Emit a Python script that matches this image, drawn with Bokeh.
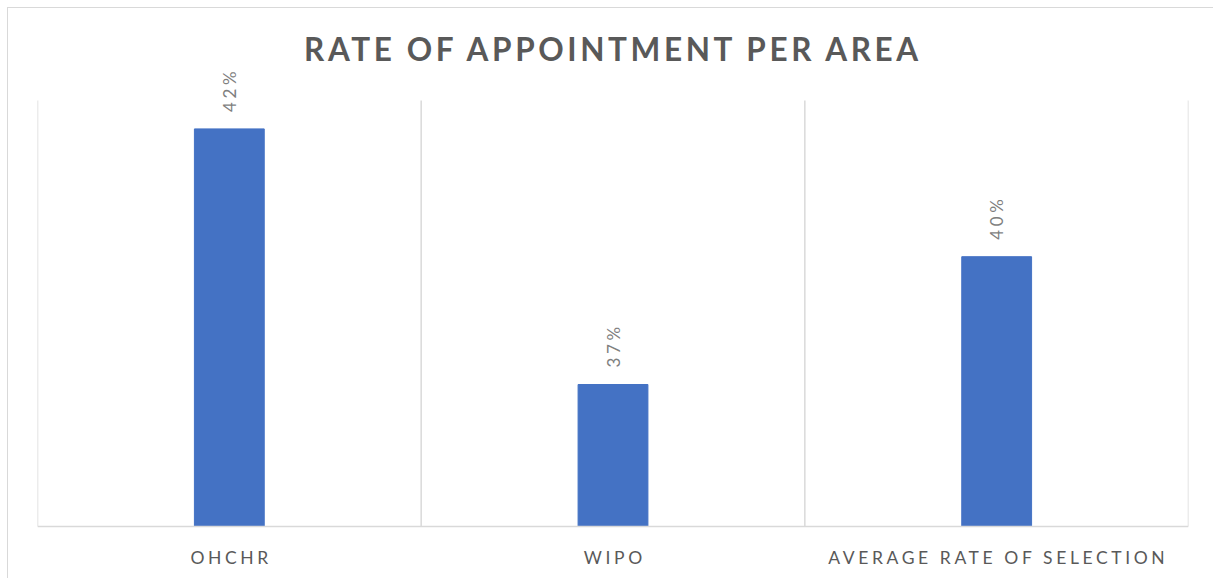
from bokeh.plotting import figure
from bokeh.models import ColumnDataSource, FactorRange, Range1d, Span, Label
from bokeh.embed import file_html
from bokeh.resources import INLINE
import math

# ---- data ----
categories = ["OHCHR", "WIPO", "AVERAGE RATE OF SELECTION"]
values = [0.424, 0.370, 0.397]
value_labels = [f"{v:.0%}" for v in values]
title_text = "RATE OF APPOINTMENT PER AREA"
y_min, y_max = 0.34, 0.43

LS = 3.6  # letter spacing px (CSS, not measured by Bokeh -> compensate centring)
FONT = "Lato"
GRAY = "#595959"
GRID = "#d9d9d9"

# layout (pixels inside the figure)
W, H = 1206, 571
PLOT_TOP, PLOT_BOTTOM = 92, 518        # value axis y_max / y_min positions
scale = (PLOT_BOTTOM - PLOT_TOP) / (y_max - y_min)   # px per unit
y_start = y_min - (H - PLOT_BOTTOM) / scale
y_end = y_max + PLOT_TOP / scale

src = ColumnDataSource(dict(cat=categories, val=values))
n = len(categories)
bounds = list(range(n + 1))

p = figure(
    width=W, height=H,
    x_range=FactorRange(factors=categories, range_padding=0, factor_padding=0),
    y_range=Range1d(y_start, y_end),
    output_backend="svg", toolbar_location=None,
    min_border_left=29, min_border_right=26, min_border_top=0, min_border_bottom=0,
)
p.styles = {"letter-spacing": f"{LS}px", "margin-top": "7px", "margin-left": "7px",
            "border-top": f"1px solid {GRID}", "border-left": f"1px solid {GRID}"}
p.outline_line_color = None
p.title.visible = False
p.xaxis.visible = False
p.yaxis.visible = False
p.xgrid.visible = False
p.ygrid.visible = False

# category boundary gridlines (synthetic factor coordinates: boundaries at 0..n)
p.segment(x0=bounds, x1=bounds, y0=[y_min] * (n + 1), y1=[y_max] * (n + 1),
          line_color=GRID, line_width=1.5)
# category axis line
p.add_layout(Span(location=y_min, dimension="width", line_color=GRID, line_width=1.5))

p.vbar(x="cat", top="val", bottom=y_min, width=0.182, color="#4472C4", source=src)

# title
p.add_layout(Label(x=n / 2, y=y_max, y_offset=52, text=title_text,
                   text_align="center", text_baseline="middle",
                   x_offset=-(len(title_text) - 1) * LS / 2,
                   text_font=FONT, text_font_style="bold", text_font_size="31.5px",
                   text_color=GRAY))

# data labels and category labels (factor i is centred at synthetic i + 0.5)
for i, (cat, val, lab) in enumerate(zip(categories, values, value_labels)):
    xc = i + 0.5
    p.add_layout(Label(x=xc, y=val, text=lab, angle=math.pi / 2,
                       text_align="left", text_baseline="middle", y_offset=17,
                       text_font=FONT, text_font_size="17px", text_color="#7f7f7f"))
    p.add_layout(Label(x=xc, y=y_min, text=cat, text_align="center",
                       text_baseline="alphabetic", y_offset=-31,
                       x_offset=-(len(cat) - 1) * LS / 2,
                       text_font=FONT, text_font_size="17.5px", text_color=GRAY))

open("out.html", "w").write(file_html(p, INLINE))
